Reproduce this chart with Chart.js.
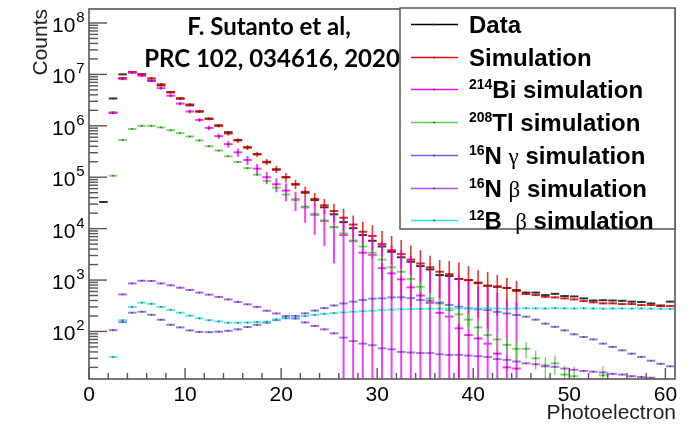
<!DOCTYPE html>
<html>
<head>
<meta charset="utf-8">
<script src="https://cdn.jsdelivr.net/npm/chart.js@4.4.1/dist/chart.umd.min.js"></script>
<style>
    html, body { margin: 0; padding: 0; background: #fff; }
    #wrap { width: 692px; height: 425px; }
</style>
</head>
<body>
<div id="wrap"><canvas id="g_pe" width="692" height="425"></canvas></div>
<script>
// centres des bins (photoelectrons), largeur 1
const bins = [1.5, 2.5, 3.5, 4.5, 5.5, 6.5, 7.5, 8.5, 9.5, 10.5,
    11.5, 12.5, 13.5, 14.5, 15.5, 16.5, 17.5, 18.5, 19.5, 20.5,
    21.5, 22.5, 23.5, 24.5, 25.5, 26.5, 27.5, 28.5, 29.5, 30.5,
    31.5, 32.5, 33.5, 34.5, 35.5, 36.5, 37.5, 38.5, 39.5, 40.5,
    41.5, 42.5, 43.5, 44.5, 45.5, 46.5, 47.5, 48.5, 49.5, 50.5,
    51.5, 52.5, 53.5, 54.5, 55.5, 56.5, 57.5, 58.5, 59.5, 60.5];

const dataCounts = [3.3e4, 3.4e6, 1.0e7, 1.1e7, 1.0e7, 7.6e6, 6.1e6, 4.5e6, 3.4e6, 2.5e6,
    1.9e6, 1.38e6, 1.02e6, 7.5e5, 5.3e5, 3.8e5, 2.8e5, 1.95e5, 1.4e5, 1.0e5,
    7.2e4, 5.0e4, 3.6e4, 2.6e4, 1.9e4, 1.34e4, 1.02e4, 7.5e3, 5.8e3, 4.5e3,
    3.55e3, 2.77e3, 2.27e3, 1.87e3, 1.61e3, 1.25e3, 1.2e3, 1.05e3, 1.0e3, 890,
    780, 750, 700, 640, 570, 570, 510, 540, 490, 480,
    440, 400, 405, 400, 395, 380, 375, 350, 320, 380];

const simCounts = [null, 1.8e6, 8.5e6, 1.1e7, 1.0e7, 8.4e6, 6.4e6, 4.5e6, 3.4e6, 2.6e6,
    1.9e6, 1.36e6, 1.0e6, 7.1e5, 5.2e5, 3.8e5, 2.8e5, 2.0e5, 1.43e5, 1.0e5,
    7.4e4, 5.2e4, 3.8e4, 2.85e4, 2.2e4, 1.63e4, 1.2e4, 8.7e3, 7.2e3, 5.0e3,
    3.8e3, 3.2e3, 2.5e3, 2.1e3, 1.77e3, 1.45e3, 1.3e3, 1.05e3, 1.0e3, 870,
    770, 730, 700, 610, 535, 510, 473, 460, 440, 420,
    390, 368, 352, 352, 341, 341, 326, 326, 312, 312];

const biCounts = [null, 1.8e6, 8.1e6, 1.08e7, 9.4e6, 7.5e6, 5.4e6, 3.85e6, 2.7e6, 1.9e6,
    1.3e6, 9.1e5, 6.3e5, 4.4e5, 3.05e5, 2.16e5, 1.47e5, 1.0e5, 7.3e4, 5.5e4,
    3.7e4, 2.6e4, 1.86e4, 1.4e4, 1.07e4, 7.5e3, 5.7e3, 3.4e3, 3.1e3, 1.7e3,
    1.35e3, 1.03e3, 720, 500, 360, 230, 195, 115, 85, 73,
    58, 37, 20, 19, null, null, null, null, null, null,
    null, null, null, null, null, null, null, null, null, null];

// erreurs du 214Bi (dominent aussi l'erreur de la simulation totale)
const biErr = [null, 1.0e5, 4.0e5, 5.0e5, 4.5e5, 4.0e5, 3.2e5, 2.5e5, 1.9e5, 1.5e5,
    1.1e5, 9.0e4, 7.5e4, 6.5e4, 5.5e4, 4.3e4, 3.4e4, 2.7e4, 2.2e4, 2.1e4,
    1.5e4, 1.3e4, 1.1e4, 9.4e3, 8.6e3, 8.0e3, 6.0e3, 4.9e3, 4.5e3, 4.0e3,
    3.4e3, 2.8e3, 2.2e3, 1.7e3, 1.2e3, 1.0e3, 1.05e3, 1.15e3, 870, 680,
    670, 530, 400, 355, null, null, null, null, null, null,
    null, null, null, null, null, null, null, null, null, null];

const tlCounts = [null, 1.07e5, 5.3e5, 8.7e5, 1.0e6, 1.0e6, 9.3e5, 8.2e5, 7.2e5, 6.2e5,
    5.2e5, 4.0e5, 3.3e5, 2.55e5, 1.98e5, 1.5e5, 1.12e5, 8.4e4, 6.25e4, 4.6e4,
    3.6e4, 2.7e4, 1.95e4, 1.45e4, 1.07e4, 8.1e3, 5.9e3, 4.5e3, 3.4e3, 2.5e3,
    1.77e3, 1.45e3, 1.05e3, 740, 440, 350, 260, 215, 170, 120,
    85, 70, 55, 46, 46, 30, 22, 24, 14.5, 13.5,
    null, null, 14, null, null, null, null, null, null, null];

const tlErr = [null, 3e3, 1e4, 1.5e4, 1.7e4, 1.7e4, 1.6e4, 1.5e4, 1.4e4, 1.3e4,
    1.2e4, 1.0e4, 9e3, 7.5e3, 6.5e3, 5.5e3, 4.5e3, 3.6e3, 3.0e3, 2.4e3,
    2.0e3, 1.7e3, 1.3e3, 1.1e3, 900, 750, 600, 500, 420, 350,
    280, 250, 200, 160, 110, 95, 80, 70, 55, 40,
    30, 26, 20, 17, 16, 12, 10, 10, 7, 7,
    null, null, 7, null, null, null, null, null, null, null];

const nGammaCounts = [null, null, 152, 232, 242, 211, 169, 135, 120, 105,
    98, 97, 99, 103, 110, 122, 135, 148, 166, 182,
    200, 225, 255, 285, 320, 350, 380, 410, 435, 440,
    460, 462, 445, 410, 395, 363, 327, 302, 281, 270,
    260, 240, 224, 209, 194, 170, 142, 123, 105, 88,
    78, 70, 58, 50, 43, 37, 32, 27, 23.5, 21];

const nBetaCounts = [null, 106, 525, 860, 970, 960, 860, 790, 710, 640,
    570, 520, 470, 420, 375, 337, 300, 253, 224, 200,
    178, 150, 128, 110, 92, 76, 65, 58, 54, 47,
    45, 40, 39, 38, 38, 36, 35, 35, 34, 33,
    32, 29, 28, 26, 24, 23, 21, 20.5, 19, 18,
    17, 16.5, 16, 15, 14.5, 13.5, 13, 12.6, null, null];

const b12Counts = [null, 32, 166, 300, 363, 345, 300, 263, 232, 203,
    180, 166, 157, 148, 148, 149, 153, 155, 172, 180,
    190, 200, 210, 220, 228, 235, 242, 248, 253, 262,
    266, 270, 273, 275, 277, 278, 280, 281, 282, 280,
    282, 280, 278, 281, 282, 281, 280, 283, 281, 280,
    282, 280, 278, 280, 281, 279, 280, 278, 277, 276];

// graduations
const xLabels = [0, 10, 20, 30, 40, 50, 60];
const yDecades = [2, 3, 4, 5, 6, 7, 8];

// legende (morceaux : exposant, texte gras, lettre grecque)
const legendRows = [
    [['b', 'Data']],
    [['b', 'Simulation']],
    [['sup', '214'], ['b', 'Bi simulation']],
    [['sup', '208'], ['b', 'Tl simulation']],
    [['sup', '16'], ['b', 'N '], ['g', 'γ'], ['b', ' simulation']],
    [['sup', '16'], ['b', 'N '], ['g', 'β'], ['b', ' simulation']],
    [['sup', '12'], ['b', 'B  '], ['g', 'β'], ['b', ' simulation']]
];
const seriesColors = ['#000000', '#ff0000', '#ff00ff', '#5ccc4e', '#6a66e0', '#b050f5', '#2ee3e3'];

function toPoints(values, errs) {
    let pts = [];
    for (let i = 0; i < bins.length; i++) {
        if (values[i] === null || values[i] <= 0) continue;
        pts.push({ x: bins[i], y: values[i], e: errs ? errs[i] : null });
    }
    return pts;
}

function makeSet(label, values, errs, idx, barColor, errColor, errWidth) {
    return {
        label: label,
        data: toPoints(values, errs),
        showLine: false,
        pointStyle: 'line',
        pointRadius: 4.3,
        pointBorderWidth: 2,
        pointBorderColor: barColor,
        pointBackgroundColor: barColor,
        errColor: errColor,
        errWidth: errWidth,
        order: 10 - idx
    };
}

// barres d'erreur verticales + petit marqueur, dessinees apres chaque serie
const errorBars = {
    id: 'errorBars',
    afterDatasetDraw(chart, args) {
        const ds = chart.data.datasets[args.index];
        const ctx = chart.ctx;
        const xs = chart.scales.x, ys = chart.scales.y;
        const a = chart.chartArea;
        ctx.save();
        ctx.beginPath();
        ctx.rect(a.left, a.top, a.right - a.left, a.bottom - a.top);
        ctx.clip();
        if (ds.errColor) {
            ctx.strokeStyle = ds.errColor;
            ctx.lineWidth = ds.errWidth;
            ds.data.forEach(p => {
                if (!p.e) return;
                const px = xs.getPixelForValue(p.x);
                const top = ys.getPixelForValue(p.y + p.e);
                const low = p.y - p.e;
                const bot = low > 0 ? ys.getPixelForValue(low) : a.bottom;
                ctx.beginPath();
                ctx.moveTo(px, top);
                ctx.lineTo(px, Math.min(bot, a.bottom));
                ctx.stroke();
            });
        }
        ctx.fillStyle = 'rgba(30,30,30,0.7)';
        ds.data.forEach(p => {
            const px = xs.getPixelForValue(p.x);
            const py = ys.getPixelForValue(p.y);
            ctx.fillRect(px - 0.75, py - 0.75, 1.5, 1.5);
        });
        ctx.restore();
    }
};

// cadre, graduations vers l'interieur, etiquettes, titres, legende
const rootFrame = {
    id: 'rootFrame',
    afterDraw(chart) {
        const ctx = chart.ctx;
        const a = chart.chartArea;
        const xs = chart.scales.x, ys = chart.scales.y;
        ctx.save();
        ctx.strokeStyle = '#555';
        ctx.lineWidth = 1.6;
        ctx.strokeRect(a.left, a.top, a.right - a.left, a.bottom - a.top);

        // axe x : grandes graduations tous les 10, petites tous les 2
        ctx.lineWidth = 1.4;
        for (let v = 0; v <= 60; v += 2) {
            const px = xs.getPixelForValue(v);
            const len = (v % 10 === 0) ? 11 : 6;
            ctx.beginPath();
            ctx.moveTo(px, a.bottom);
            ctx.lineTo(px, a.bottom - len);
            ctx.stroke();
        }
        // axe y log
        for (let d = 1; d <= 8; d++) {
            for (let m = 1; m <= 9; m++) {
                const v = m * Math.pow(10, d);
                if (v < ys.min || v > ys.max) continue;
                const py = ys.getPixelForValue(v);
                const len = (m === 1) ? 18 : 9;
                ctx.beginPath();
                ctx.moveTo(a.left, py);
                ctx.lineTo(a.left + len, py);
                ctx.stroke();
            }
        }

        ctx.fillStyle = '#000';
        ctx.textBaseline = 'alphabetic';
        ctx.font = '21px "Liberation Sans", Arial, sans-serif';
        ctx.textAlign = 'center';
        xLabels.forEach(v => {
            ctx.fillText(String(v), xs.getPixelForValue(v), 401);
        });
        yDecades.forEach(d => {
            const py = ys.getPixelForValue(Math.pow(10, d));
            ctx.textAlign = 'left';
            ctx.font = '21px "Liberation Sans", Arial, sans-serif';
            ctx.fillText('10', 52, py + 9);
            const w = ctx.measureText('10').width;
            ctx.font = '15px "Liberation Sans", Arial, sans-serif';
            ctx.fillText(String(d), 52 + w + 1, py - 1);
        });

        // titres des axes
        ctx.fillStyle = '#222';
        ctx.font = '21px "Liberation Sans", Arial, sans-serif';
        ctx.textAlign = 'right';
        ctx.fillText('Photoelectron', a.right + 1, 419);
        ctx.save();
        ctx.translate(47, a.top);
        ctx.rotate(-Math.PI / 2);
        ctx.font = '21px "Liberation Sans", Arial, sans-serif';
        ctx.textAlign = 'right';
        ctx.fillText('Counts', 0, 0);
        ctx.restore();

        // reference
        ctx.fillStyle = '#000';
        ctx.textAlign = 'center';
        ctx.font = 'bold 24px Lato, "Open Sans", sans-serif';
        ctx.fillText('F. Sutanto et al,', 269, 35);
        ctx.fillText('PRC 102, 034616, 2020', 272, 67);

        // legende
        ctx.fillStyle = '#fff';
        ctx.fillRect(400, 8, 275, 221);
        ctx.strokeStyle = '#555';
        ctx.lineWidth = 1.5;
        ctx.strokeRect(400, 8, 275, 221);
        ctx.textAlign = 'left';
        legendRows.forEach((row, i) => {
            const cy = Math.round(24 + i * 32.7) + 0.5;
            ctx.strokeStyle = seriesColors[i];
            ctx.lineWidth = 1.5;
            ctx.beginPath();
            ctx.moveTo(411, cy);
            ctx.lineTo(458, cy);
            ctx.stroke();
            ctx.fillStyle = '#333';
            ctx.fillRect(433.5, cy - 0.75, 1.5, 1.5);
            ctx.fillStyle = '#000';
            let tx = 469;
            const base = cy + 8;
            row.forEach(seg => {
                if (seg[0] === 'sup') {
                    ctx.font = 'bold 14px "Liberation Sans", Arial, sans-serif';
                    ctx.fillText(seg[1], tx, base - 9);
                } else if (seg[0] === 'g') {
                    ctx.font = '23px "Liberation Serif", "DejaVu Serif", serif';
                    ctx.fillText(seg[1], tx, base);
                } else {
                    ctx.font = 'bold 24px "Liberation Sans", Arial, sans-serif';
                    ctx.fillText(seg[1], tx, base);
                }
                tx += ctx.measureText(seg[1]).width;
            });
        });
        ctx.restore();
    }
};

function drawChart() {
    const context = document.getElementById('g_pe').getContext('2d');
    const datasets = [
        makeSet('Data', dataCounts, null, 0, 'rgba(20,20,20,0.85)', null, 0),
        makeSet('Simulation', simCounts, biErr, 1, 'rgba(235,0,0,0.85)', 'rgba(230,0,0,0.8)', 1.6),
        makeSet('214Bi simulation', biCounts, biErr, 2, 'rgba(255,0,255,0.8)', 'rgba(240,0,240,0.75)', 2),
        makeSet('208Tl simulation', tlCounts, tlErr, 3, 'rgba(92,204,78,0.8)', 'rgba(92,204,78,0.9)', 1.3),
        makeSet('16N gamma simulation', nGammaCounts, null, 4, 'rgba(106,102,224,0.8)', null, 0),
        makeSet('16N beta simulation', nBetaCounts, null, 5, 'rgba(176,80,245,0.85)', null, 0),
        makeSet('12B beta simulation', b12Counts, null, 6, 'rgba(46,227,227,0.8)', null, 0)
    ];
    let config = {
        type: 'scatter',
        data: { datasets: datasets },
        options: {
            responsive: false,
            animation: false,
            events: [],
            layout: { padding: { left: 89, right: 17, top: 9, bottom: 46 } },
            plugins: {
                legend: { display: false },
                tooltip: { enabled: false }
            },
            scales: {
                x: { type: 'linear', display: false, min: 0, max: 61 },
                y: { type: 'logarithmic', display: false, min: 11.9, max: 1.87e8 }
            }
        },
        plugins: [errorBars, rootFrame]
    };
    let gPe = new Chart(context, config);
}

window.addEventListener('load', () => {
    drawChart();
});
</script>
</body>
</html>
